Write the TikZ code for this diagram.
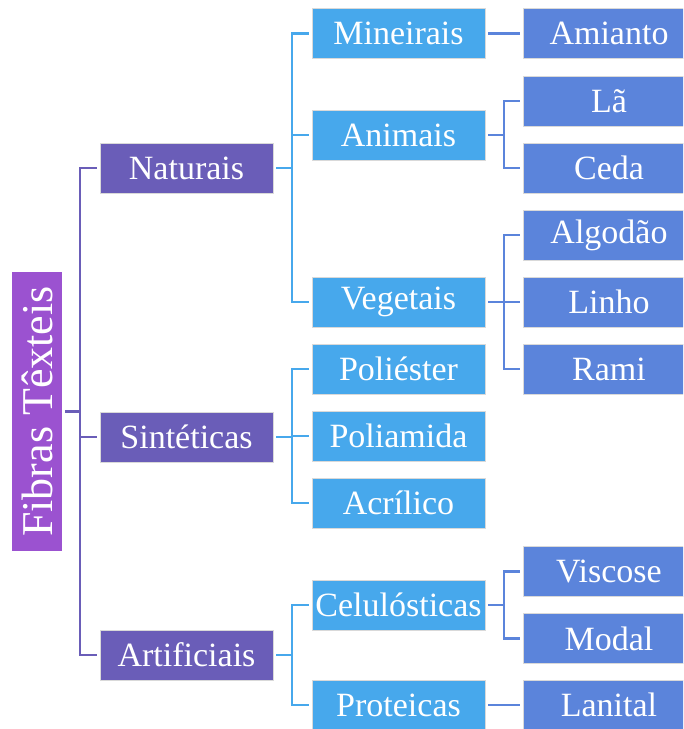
\documentclass[tikz,border=0pt]{standalone}
\usepackage{fontspec}
\setmainfont{Liberation Serif}
\definecolor{cRoot}{RGB}{155,82,208}
\definecolor{cOne}{RGB}{106,93,184}
\definecolor{cTwo}{RGB}{71,168,236}
\definecolor{cThree}{RGB}{91,132,219}
\begin{document}
\begin{tikzpicture}[x=0.75pt,y=-0.75pt,
  box/.style={draw=white!85!black, line width=0.4pt, text=white, inner sep=0pt, minimum height=37.5pt,
    font=\fontsize{25.5}{30}\selectfont},
  lvone/.style={box, fill=cOne, minimum width=129.75pt},
  lvtwo/.style={box, fill=cTwo, minimum width=129.75pt},
  lvthree/.style={box, fill=cThree, minimum width=129pt},
  conn/.style={line width=1.8pt},
  ]
\clip (0,0) rectangle (683,729);
\useasboundingbox (0,0) rectangle (683,729);
\fill[white] (0,0) rectangle (683,729);
% root
\node[fill=cRoot, text=white, rotate=90, minimum width=209.25pt, minimum height=37.5pt, inner sep=0pt,
  font=\fontsize{33}{40}\selectfont] (root) at (37,411.5) {Fibras Têxteis};
% level 1
\node[lvone] (nat) at (186.5,168) {Naturais};
\node[lvone] (sin) at (186.5,437) {Sintéticas};
\node[lvone] (art) at (186.5,655) {Artificiais};
% level 2
\node[lvtwo] (min) at (398.5,33.5) {Mineirais};
\node[lvtwo] (ani) at (398.5,135) {Animais};
\node[lvtwo] (veg) at (398.5,302) {Vegetais};
\node[lvtwo] (pol) at (398.5,369) {Poliéster};
\node[lvtwo] (pam) at (398.5,436) {Poliamida};
\node[lvtwo] (acr) at (398.5,503) {Acrílico};
\node[lvtwo] (cel) at (398.5,605) {Celulósticas};
\node[lvtwo] (pro) at (398.5,705) {Proteicas};
% level 3
\node[lvthree] (ami) at (609,33.5) {Amianto};
\node[lvthree] (la) at (609,101) {Lã};
\node[lvthree] (ced) at (609,168) {Ceda};
\node[lvthree] (alg) at (609,235) {Algodão};
\node[lvthree] (lin) at (609,302) {Linho};
\node[lvthree] (ram) at (609,369) {Rami};
\node[lvthree] (vis) at (609,571.5) {Viscose};
\node[lvthree] (mod) at (609,638.5) {Modal};
\node[lvthree] (lan) at (609,705) {Lanital};
% spines
\coordinate (s0) at (80,0);
\coordinate (s1) at (292,0);
\coordinate (s2) at (504,0);
% root -> level 1
\draw[conn, cOne, shorten <=2.25pt] (root.south) -- (root.south -| s0);
\foreach \c in {nat,sin,art}
  \draw[conn, cOne, shorten >=2.25pt] (root.south -| s0) |- (\c.west);
% level 1 -> level 2
\draw[conn, cTwo, shorten <=2.25pt] (nat.east) -- (nat.east -| s1);
\foreach \c in {min,ani,veg}
  \draw[conn, cTwo, shorten >=2.25pt] (nat.east -| s1) |- (\c.west);
\draw[conn, cTwo, shorten <=2.25pt] (sin.east) -- (sin.east -| s1);
\foreach \c in {pol,pam,acr}
  \draw[conn, cTwo, shorten >=2.25pt] (sin.east -| s1) |- (\c.west);
\draw[conn, cTwo, shorten <=2.25pt] (art.east) -- (art.east -| s1);
\foreach \c in {cel,pro}
  \draw[conn, cTwo, shorten >=2.25pt] (art.east -| s1) |- (\c.west);
% level 2 -> level 3
\draw[conn, cThree, shorten <=2.25pt, shorten >=2.25pt] (min.east) -- (ami.west);
\draw[conn, cThree, shorten <=2.25pt] (ani.east) -- (ani.east -| s2);
\foreach \c in {la,ced}
  \draw[conn, cThree, shorten >=2.25pt] (ani.east -| s2) |- (\c.west);
\draw[conn, cThree, shorten <=2.25pt] (veg.east) -- (veg.east -| s2);
\foreach \c in {alg,lin,ram}
  \draw[conn, cThree, shorten >=2.25pt] (veg.east -| s2) |- (\c.west);
\draw[conn, cThree, shorten <=2.25pt] (cel.east) -- (cel.east -| s2);
\foreach \c in {vis,mod}
  \draw[conn, cThree, shorten >=2.25pt] (cel.east -| s2) |- (\c.west);
\draw[conn, cThree, shorten <=2.25pt, shorten >=2.25pt] (pro.east) -- (lan.west);
\end{tikzpicture}
\end{document}
